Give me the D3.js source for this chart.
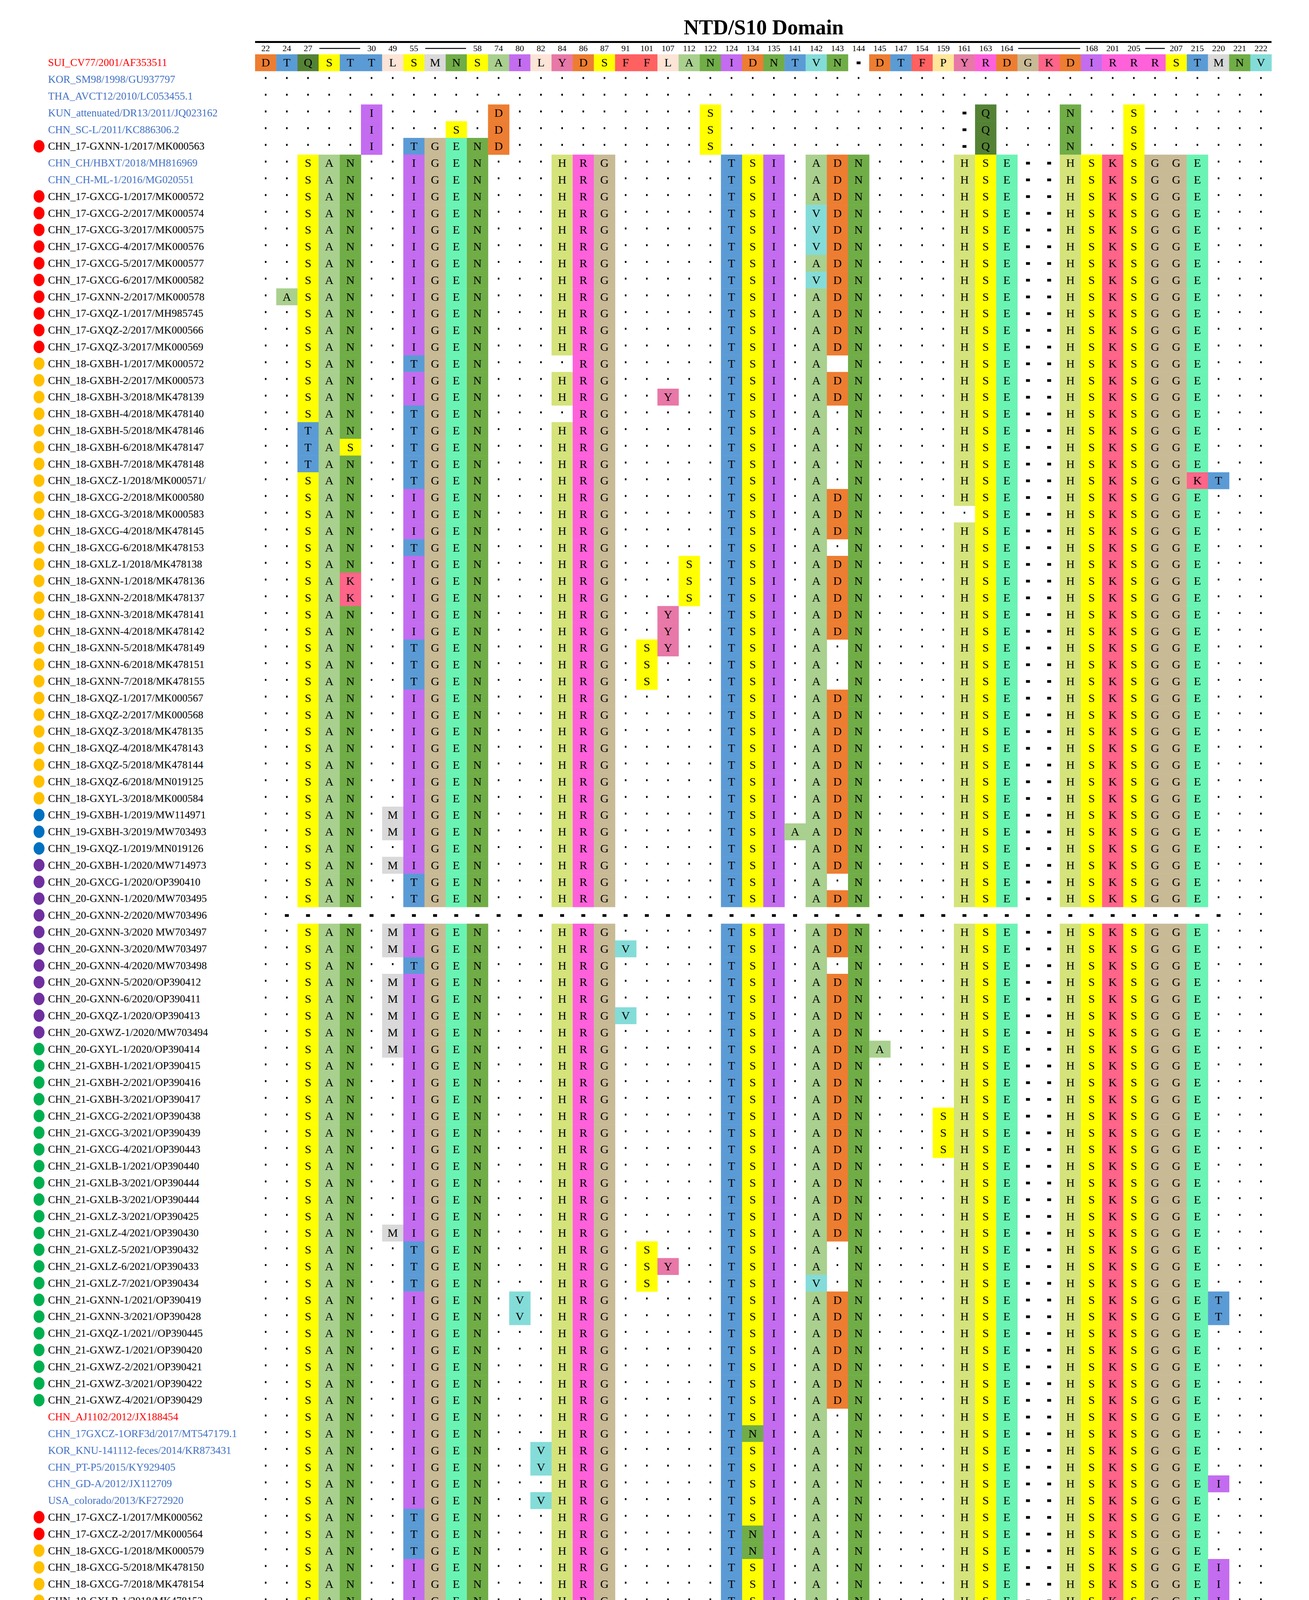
<!DOCTYPE html>
<html><head><meta charset="utf-8">
<script src="https://cdn.jsdelivr.net/npm/d3@7"></script>
<style>body{margin:0;background:#fff}</style>
</head><body>
<script>
const title = "NTD/S10 Domain";
const colLabels = ["22","24","27","","","30","49","55","","","58","74","80","82","84","86","87","91","101","107","112","122","124","134","135","141","142","143","144","145","147","154","159","161","163","164","","","","168","201","205","","207","215","220","221","222"];
const labelRanges = [[3,6],[8,11],[36,40],[42,44]];
const refSeq = "DTQSTTLSMNSAILYDSFFLANIDNTVN-DTFPYRDGKDIRRRSTMNV";
const commonSeq = "..SAN..IGEN...HRG.....TSI.ADN....HSE--HSKSGGE...";

const labels = [
"SUI_CV77/2001/AF353511","KOR_SM98/1998/GU937797","THA_AVCT12/2010/LC053455.1","KUN_attenuated/DR13/2011/JQ023162","CHN_SC-L/2011/KC886306.2","CHN_17-GXNN-1/2017/MK000563","CHN_CH/HBXT/2018/MH816969","CHN_CH-ML-1/2016/MG020551",
"CHN_17-GXCG-1/2017/MK000572","CHN_17-GXCG-2/2017/MK000574","CHN_17-GXCG-3/2017/MK000575","CHN_17-GXCG-4/2017/MK000576","CHN_17-GXCG-5/2017/MK000577","CHN_17-GXCG-6/2017/MK000582","CHN_17-GXNN-2/2017/MK000578","CHN_17-GXQZ-1/2017/MH985745","CHN_17-GXQZ-2/2017/MK000566","CHN_17-GXQZ-3/2017/MK000569",
"CHN_18-GXBH-1/2017/MK000572","CHN_18-GXBH-2/2017/MK000573","CHN_18-GXBH-3/2018/MK478139","CHN_18-GXBH-4/2018/MK478140","CHN_18-GXBH-5/2018/MK478146","CHN_18-GXBH-6/2018/MK478147","CHN_18-GXBH-7/2018/MK478148","CHN_18-GXCZ-1/2018/MK000571/","CHN_18-GXCG-2/2018/MK000580","CHN_18-GXCG-3/2018/MK000583","CHN_18-GXCG-4/2018/MK478145","CHN_18-GXCG-6/2018/MK478153","CHN_18-GXLZ-1/2018/MK478138","CHN_18-GXNN-1/2018/MK478136","CHN_18-GXNN-2/2018/MK478137","CHN_18-GXNN-3/2018/MK478141","CHN_18-GXNN-4/2018/MK478142","CHN_18-GXNN-5/2018/MK478149","CHN_18-GXNN-6/2018/MK478151","CHN_18-GXNN-7/2018/MK478155","CHN_18-GXQZ-1/2017/MK000567","CHN_18-GXQZ-2/2017/MK000568","CHN_18-GXQZ-3/2018/MK478135","CHN_18-GXQZ-4/2018/MK478143","CHN_18-GXQZ-5/2018/MK478144","CHN_18-GXQZ-6/2018/MN019125","CHN_18-GXYL-3/2018/MK000584",
"CHN_19-GXBH-1/2019/MW114971","CHN_19-GXBH-3/2019/MW703493","CHN_19-GXQZ-1/2019/MN019126",
"CHN_20-GXBH-1/2020/MW714973","CHN_20-GXCG-1/2020/OP390410","CHN_20-GXNN-1/2020/MW703495","CHN_20-GXNN-2/2020/MW703496","CHN_20-GXNN-3/2020 MW703497","CHN_20-GXNN-3/2020/MW703497","CHN_20-GXNN-4/2020/MW703498","CHN_20-GXNN-5/2020/OP390412","CHN_20-GXNN-6/2020/OP390411","CHN_20-GXQZ-1/2020/OP390413","CHN_20-GXWZ-1/2020/MW703494",
"CHN_20-GXYL-1/2020/OP390414","CHN_21-GXBH-1/2021/OP390415","CHN_21-GXBH-2/2021/OP390416","CHN_21-GXBH-3/2021/OP390417","CHN_21-GXCG-2/2021/OP390438","CHN_21-GXCG-3/2021/OP390439","CHN_21-GXCG-4/2021/OP390443","CHN_21-GXLB-1/2021/OP390440","CHN_21-GXLB-3/2021/OP390444","CHN_21-GXLB-3/2021/OP390444","CHN_21-GXLZ-3/2021/OP390425","CHN_21-GXLZ-4/2021/OP390430","CHN_21-GXLZ-5/2021/OP390432","CHN_21-GXLZ-6/2021/OP390433","CHN_21-GXLZ-7/2021/OP390434","CHN_21-GXNN-1/2021/OP390419","CHN_21-GXNN-3/2021/OP390428","CHN_21-GXQZ-1/2021//OP390445","CHN_21-GXWZ-1/2021/OP390420","CHN_21-GXWZ-2/2021/OP390421","CHN_21-GXWZ-3/2021/OP390422","CHN_21-GXWZ-4/2021/OP390429",
"CHN_AJ1102/2012/JX188454","CHN_17GXCZ-1ORF3d/2017/MT547179.1","KOR_KNU-141112-feces/2014/KR873431","CHN_PT-P5/2015/KY929405","CHN_GD-A/2012/JX112709","USA_colorado/2013/KF272920",
"CHN_17-GXCZ-1/2017/MK000562","CHN_17-GXCZ-2/2017/MK000564","CHN_18-GXCG-1/2018/MK000579","CHN_18-GXCG-5/2018/MK478150","CHN_18-GXCG-7/2018/MK478154","CHN_18-GXLB-1/2018/MK478152","CHN_18-GXYL-1/2018/MK000565","CHN_18-GXYL-2/2018/MK000581","CHN_20-GXCG-1/2020/OP390410","CHN_21-GXBH-4/2021/OP390418","CHN_21-GXLZ-8/2021/OP390447","CHN_21-GXNN-4/2021/OP390435","CHN_21-GXNN-5/2021/OP390436","CHN_21-GXNN-6/2021/OP390437","CHN_21-GXNN-7/2021/OP390442","CHN_21-GXNN-8/2021/OP390453",
"USA_Iowa106/2013/KJ645695","CHN_GXBH02/2018/MK731908.1","CHN_19-GXBH-2/2019/MW114972","CHN_21-GXLZ-1/2021/OP390423","CHN_21-GXLZ-2/2021/OP390424","CHN_21-GXLZ-9/2021/OP390448","CHN_21-GXNN-2/2021/OP390426","CHN_22-GXNN-2/2022/OP390450","CHN_22-GXWZ-1/2022/OP390449","CHN_22-GXWZ-2/2022/OP390450"];

const groups = ["red","blue","blue","blue","blue","y17","blue","blue",
"y17","y17","y17","y17","y17","y17","y17","y17","y17","y17",
...Array(27).fill("y18"),
"y19","y19","y19",
...Array(11).fill("y20"),
...Array(22).fill("y21"),
"red","blue","blue","blue","blue","blue",
"y17","y17","y18","y18","y18","y18","y18","y18","y20",
...Array(7).fill("y21"),
"blue","blue","y19","y21","y21","y21","y21","y22","y22","y22"];

const bases = ["R","D","D","D","D","D","P","P",
...Array(10).fill("P"),...Array(27).fill("P"),"P","P","P",
"P","P","P","X",...Array(7).fill("P"),...Array(22).fill("P"),
...Array(6).fill("P"),...Array(16).fill("P"),
"D","D","D","D","D","D","D","D","D","D"];

const diffs = ["","","","6I 12D 22S 34- 35Q 39N 42S","6I 10S 12D 22S 34- 35Q 39N 42S","6I 8T 9G 10E 11N 12D 22S 34- 35Q 39N 42S","","",
"","27V","27V","27V","","27V","2A","","","",
"8T 15. 28_","","20Y","8T 15. 28.","3T 8T 28.","3T 5S 8T 28.","3T 8T 28.","8T 28. 45K 46T","","34.","","8T 28.","21S","5K 21S","5K 21S","20Y","20Y","8T 19S 20Y 28.","8T 19S 28.","8T 19S 28.","","","","","","","",
"7M","7M 26A","",
"7M","8T 28.","8T","","7M","7M 18V","8T 28.","7M","7M","7M 18V","7M",
"7M 30A","","","","33S","33S","33S","","","","","7M","8T 19S 28.","8T 19S 20Y 28.","8T 19S 27V 28.","13V 46T","13V 46T","","","","","",
"28.","24N 28.","14V 28.","14V 28.","28. 46I","14V 28.",
"8T 28.","8T 24N 28.","8T 24N 28.","28. 46I","28. 46I","28. 46I","7V 25T 28. 46T","7V 25T 28. 46T","8T 28. 46I","28. 46I","28. 46I","28. 46I","28. 46I","28. 46I","28. 46I","28. 46I",
"6I 17A 22H 34H 35Q 39N 42K",
"4L 22I 23V 26S 27- 28S 30G 31S 35Q 39N 42K",
"4L 22I 23V 26S 27- 28S 30G 31S 34H 35Q 39N 40L 42K",
"17A 22H 35Q 39N 42K","17A 22H 35Q 39N 42K",
"4L 22I 23V 26S 27- 28S 30G 31S 34H 35Q 37R 38E 39N 40V 42K",
"4L 22_ 23V 26S 28S 30G 31S 34H 35Q 39N 42K",
"4L 20P 22A 23T 26S 27- 28G 30V 31S 32I 34H 35Q 37R 38E 39N 40V 42K",
"4L 20P 22A 23T 26S 28G 30V 31S 32I 34H 35Q 37R 38E 39N 40V 42K",
"4L 20P 22A 23T 26S 28S 30V 31S 32I 34H 35Q 37R 38E 39N 40V 42K"];

const residueColors = {D:"#ED7D31",T:"#5B9BD5",Q:"#548235",S:"#FFFF00",L:"#FCE4D6",M:"#D9D9D9",N:"#70AD47",A:"#A9D08E",I:"#C46CF0",Y:"#E878A7",F:"#FF6161",V:"#84DCD8",P:"#ABABAB",R:"#FF61DB",G:"#C9BA96",K:"#FF6489",E:"#6AF4B4",H:"#D5E37B"};
const refOverride = {P:"#FFE699"};
const groupStyle = {red:{text:"#FF0000",dot:null},blue:{text:"#4472C4",dot:null},
 y17:{text:"#000",dot:"#FF0000"},y18:{text:"#000",dot:"#FFC000"},y19:{text:"#000",dot:"#0070C0"},
 y20:{text:"#000",dot:"#7030A0"},y21:{text:"#000",dot:"#00B050"},y22:{text:"#000",dot:"#7B0000"}};

function buildRow(i){
  let s;
  if(bases[i]==="R") s = refSeq.split("");
  else if(bases[i]==="P") s = commonSeq.split("");
  else if(bases[i]==="X") s = Array.from({length:48},(d,k)=> (k>=1&&k<=45)?"-":".");
  else s = Array(48).fill(".");
  diffs[i].split(" ").filter(t=>t).forEach(t=>{
    const c = +t.slice(0,-1), ch = t.slice(-1);
    s[c-1] = ch==="_" ? " " : ch;
  });
  return s;
}
const rows = labels.map((l,i)=>buildRow(i));

const W=3351,H=5033;
const svg = d3.select("body").append("svg").attr("width",W).attr("height",H).style("font-family","'Liberation Serif','DejaVu Serif',serif");
const x = d3.scaleBand().domain(d3.range(48)).range([653,3255]);
const rowH = 42.8;
const y = d3.scaleBand().domain(d3.range(rows.length)).range([139,139+rows.length*rowH]);
const cw = x.bandwidth(), ch = y.bandwidth();

svg.append("text").attr("x",1955).attr("y",88).attr("text-anchor","middle").attr("font-size",54).attr("font-weight","bold").text(title);
svg.append("rect").attr("x",x(0)).attr("y",105).attr("width",x(47)+cw-x(0)).attr("height",5).attr("fill","#000");

svg.selectAll("text.pos").data(colLabels).enter().append("text").attr("class","pos")
 .attr("x",(d,i)=>x(i)+cw/2).attr("y",131).attr("text-anchor","middle").attr("font-size",22).text(d=>d);
labelRanges.forEach(([a,b])=>{
  svg.append("line").attr("x1",x(a)+2).attr("x2",x(b-1)-2).attr("y1",124).attr("y2",124).attr("stroke","#000").attr("stroke-width",2.5);
});

const g = svg.append("g");
rows.forEach((r,i)=>{
  const yy = y(i), st = groupStyle[groups[i]];
  g.append("text").attr("x",123).attr("y",yy+ch/2+9).attr("font-size",27).attr("fill",st.text).text(labels[i]);
  if(st.dot) g.append("ellipse").attr("cx",100).attr("cy",yy+ch/2).attr("rx",14).attr("ry",16).attr("fill",st.dot);
  r.forEach((c,j)=>{
    const cx = x(j)+cw/2, cy = yy+ch/2;
    if(c==="."){ g.append("rect").attr("x",cx-2).attr("y",cy-6).attr("width",4).attr("height",5).attr("fill","#000"); }
    else if(c==="-"){ g.append("rect").attr("x",cx-5).attr("y",cy-3).attr("width",10).attr("height",7).attr("fill","#000"); }
    else if(c!==" "){
      const col = (i===0 && refOverride[c]) ? refOverride[c] : residueColors[c];
      g.append("rect").attr("x",x(j)).attr("y",yy).attr("width",cw+0.5).attr("height",ch+0.5).attr("fill",col);
      g.append("text").attr("x",cx).attr("y",cy+10).attr("text-anchor","middle").attr("font-size",30).text(c);
    }
  });
});
</script>
</body></html>
